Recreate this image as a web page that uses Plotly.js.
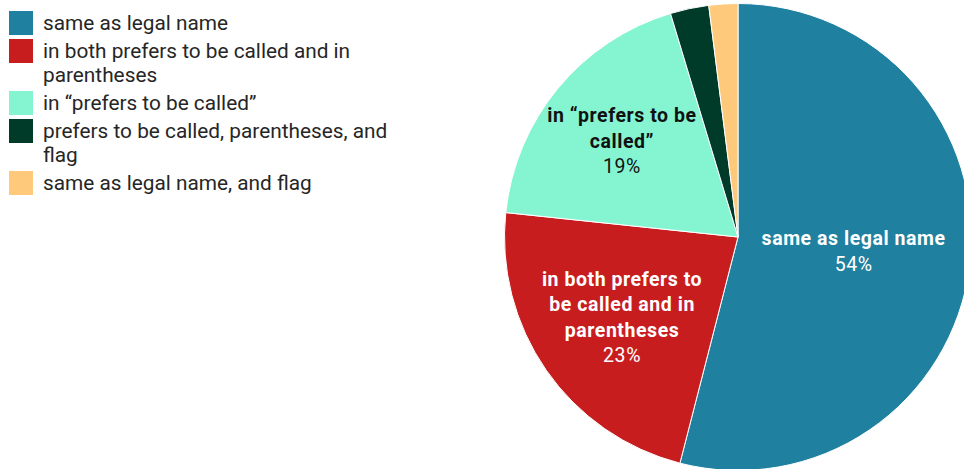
<!DOCTYPE html>
<html>
<head>
<meta charset="utf-8">
<script src="https://cdn.plot.ly/plotly-3.0.1.min.js"></script>
<style>
  html, body { margin: 0; padding: 0; overflow: hidden; background: #fff; }
  #chart { width: 980px; height: 474px; }
  #chart .slicetext { letter-spacing: 0.55px; }
</style>
</head>
<body>
<div id="chart"></div>
<script>
// ---- data ----
const categories = [
  'same as legal name',
  'in both prefers to be called and in parentheses',
  'in \u201cprefers to be called\u201d',
  'prefers to be called, parentheses, and flag',
  'same as legal name, and flag'
];
const counts = [81, 34, 28, 4, 3];
const sliceLabels = [
  'same as legal name',
  'in both prefers to<br>be called and in<br>parentheses',
  'in \u201cprefers to be<br>called\u201d',
  '',
  ''
];
const legendLines = [
  ['same as legal name'],
  ['in both prefers to be called and in', 'parentheses'],
  ['in \u201cprefers to be called\u201d'],
  ['prefers to be called, parentheses, and', 'flag'],
  ['same as legal name, and flag']
];
const colors = ['#1f80a0', '#c81d1f', '#84f5d0', '#003b29', '#fec97b'];
const textColors = ['#ffffff', '#ffffff', '#111111', '#ffffff', '#ffffff'];

// ---- layout helpers ----
const W = 980, H = 474;
const px = x => x / W;
const py = y => 1 - y / H;
const cx = 738, R = 233.5;

const templates = sliceLabels.map(l => l ? '<b>' + l + '</b><br>%{percent:.0%}' : '');

const trace = {
  type: 'pie',
  labels: categories,
  values: counts,
  sort: false,
  direction: 'clockwise',
  rotation: 0,
  marker: { colors: colors, line: { color: '#ffffff', width: 1 } },
  texttemplate: templates,
  textposition: 'inside',
  insidetextorientation: 'horizontal',
  insidetextfont: { family: 'Roboto, sans-serif', size: 19.5, color: textColors },
  hoverinfo: 'label+percent',
  domain: { x: [px(cx - R), px(cx + R)], y: [0, 1] },
  showlegend: false
};

// custom legend (squares + text) built from the category arrays
const shapes = [];
const annotations = [];
let itemTop = 11;
const lineH = 24, gap = 4, sq = 24;
legendLines.forEach((lines, i) => {
  shapes.push({
    type: 'rect', xref: 'paper', yref: 'paper',
    x0: px(9), x1: px(9 + sq), y0: py(itemTop), y1: py(itemTop + sq),
    fillcolor: colors[i], line: { width: 0 }
  });
  lines.forEach((t, j) => {
    annotations.push({
      xref: 'paper', yref: 'paper', x: px(40.5), y: py(itemTop + 12 + j * lineH),
      xanchor: 'left', yanchor: 'middle', showarrow: false, text: t,
      font: { family: 'Roboto, sans-serif', size: 20.8, color: '#262626' }
    });
  });
  itemTop += lines.length * lineH + gap;
});

const layout = {
  width: W, height: H,
  margin: { l: 0, r: 0, t: 0, b: 0 },
  paper_bgcolor: '#ffffff',
  plot_bgcolor: '#ffffff',
  showlegend: false,
  shapes: shapes,
  annotations: annotations,
  font: { family: 'Roboto, sans-serif' }
};

Plotly.newPlot('chart', [trace], layout, { displayModeBar: false, staticPlot: true });
</script>
</body>
</html>
